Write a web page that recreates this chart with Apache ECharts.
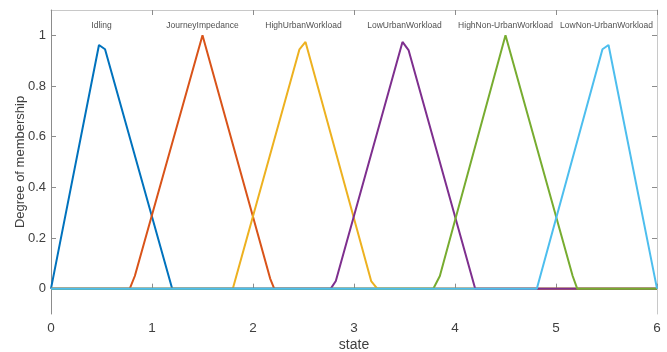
<!DOCTYPE html>
<html><head><meta charset="utf-8">
<script src="https://cdn.jsdelivr.net/npm/echarts@6/dist/echarts.min.js"></script>
<style>html,body{margin:0;padding:0;background:#fff}#c{width:667px;height:352px}</style>
</head><body><div id="c"></div>
<script>
const names = ['Idling','JourneyImpedance','HighUrbanWorkload','LowUrbanWorkload','HighNon-UrbanWorkload','LowNon-UrbanWorkload'];
const labelX = [0.5, 1.5, 2.5, 3.5, 4.5, 5.5];
const labelY = 1.037;
const idling = [[0,0],[0.475,0.962],[0.535,0.945],[1.2,0],[6,0]];
const journey = [[0,0],[0.78,0],[0.83,0.05],[1.5,1.0],[2.17,0.04],[2.21,0],[6,0]];
const highUrban = [[0,0],[1.8,0],[2.46,0.945],[2.52,0.974],[3.17,0.03],[3.23,0],[6,0]];
const lowUrban = [[0,0],[2.77,0],[2.82,0.03],[3.48,0.974],[3.54,0.942],[4.2,0],[6,0]];
const highNonUrban = [[0,0],[3.785,0],[3.85,0.05],[4.5,1.0],[5.165,0.05],[5.21,0],[6,0]];
const lowNonUrban = [[0,0],[4.81,0],[5.46,0.945],[5.52,0.962],[6,0]];
const seriesData = [idling, journey, highUrban, lowUrban, highNonUrban, lowNonUrban];
const colors = ['#0072BD','#D95319','#EDB120','#7E2F8E','#77AC30','#4DBEEE'];
const yTicks = [0,0.2,0.4,0.6,0.8,1];

const font = 'Liberation Sans, Arial, sans-serif';
const chart = echarts.init(document.getElementById('c'));
const series = seriesData.map((d,i)=>({
  type:'line', name:names[i], data:d, symbol:'none', color:colors[i],
  lineStyle:{width:2, color:colors[i]}, animation:false, xAxisIndex:0, yAxisIndex:0
}));
series.push({
  type:'scatter', data:labelX.map((x,i)=>[x,labelY,names[i]]), symbolSize:0, silent:true,
  label:{show:true, position:'inside', formatter:p=>p.data[2], fontSize:8.5, color:'#222', fontFamily:font},
  xAxisIndex:0, yAxisIndex:0, animation:false
});
chart.setOption({
  backgroundColor:'#fff',
  animation:false,
  grid:{left:51, right:10, top:10, bottom:38, containLabel:false, outerBoundsMode:'none'},
  xAxis:[{
    type:'value', min:0, max:6, interval:1, position:'bottom',
    name:'state', nameLocation:'middle', nameGap:24, nameMoveOverlap:false,
    nameTextStyle:{fontSize:14, color:'#404040', fontFamily:font},
    axisLine:{show:true, lineStyle:{color:'#8c8c8c'}},
    axisTick:{show:true, inside:true, length:5, lineStyle:{color:'#8c8c8c'}},
    axisLabel:{fontSize:13.5, color:'#404040', fontFamily:font, margin:7},
    splitLine:{show:false}
  },{
    type:'value', min:0, max:6, interval:1, position:'top',
    axisLine:{show:true, onZero:false, lineStyle:{color:'#c8c8c8'}},
    axisTick:{show:true, inside:true, length:5, lineStyle:{color:'#8c8c8c'}},
    axisLabel:{show:false}, splitLine:{show:false}
  }],
  yAxis:[{
    type:'value', min:-0.1, max:1.1, position:'left',
    name:'Degree of membership', nameLocation:'middle', nameGap:24, nameMoveOverlap:false,
    nameTextStyle:{fontSize:13, color:'#404040', fontFamily:font},
    axisLine:{show:true, lineStyle:{color:'#8c8c8c'}},
    axisTick:{show:true, inside:true, length:5, customValues:yTicks, lineStyle:{color:'#8c8c8c'}},
    axisLabel:{fontSize:13, color:'#404040', fontFamily:font, customValues:yTicks, margin:5, formatter:v=>String(Math.round(v*10)/10)},
    splitLine:{show:false}
  },{
    type:'value', min:-0.1, max:1.1, position:'right',
    axisLine:{show:true, onZero:false, lineStyle:{color:'#c8c8c8'}},
    axisTick:{show:true, inside:true, length:5, customValues:yTicks, lineStyle:{color:'#8c8c8c'}},
    axisLabel:{show:false, customValues:yTicks}, splitLine:{show:false}
  }],
  series:series
});
</script></body></html>
